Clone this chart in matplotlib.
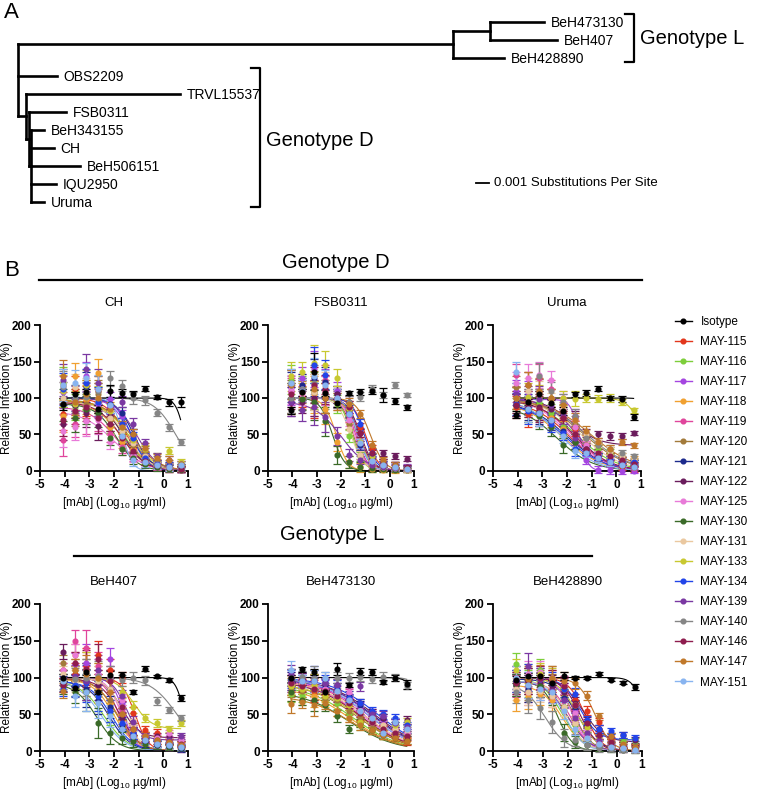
import numpy as np
import matplotlib
matplotlib.use('Agg')
import matplotlib.pyplot as plt
from matplotlib.lines import Line2D

plt.rcParams['font.family'] = ['Liberation Sans', 'DejaVu Sans']
plt.rcParams['mathtext.fontset'] = 'custom'
plt.rcParams['mathtext.rm'] = 'Liberation Sans'
plt.rcParams['mathtext.it'] = 'Liberation Sans:italic'
plt.rcParams['mathtext.bf'] = 'Liberation Sans:bold'
plt.rcParams['axes.unicode_minus'] = False

nan = np.nan

# ---------------- data ----------------
mabs = ['Isotype', 'MAY-115', 'MAY-116', 'MAY-117', 'MAY-118', 'MAY-119', 'MAY-120',
        'MAY-121', 'MAY-122', 'MAY-125', 'MAY-130', 'MAY-131', 'MAY-133', 'MAY-134',
        'MAY-139', 'MAY-140', 'MAY-146', 'MAY-147', 'MAY-151']
colors = ['#000000', '#e2361c', '#7dce3a', '#a445e0', '#f0a030', '#e0459c', '#a27a3a',
          '#1c2a8c', '#6a1c5c', '#e87ad8', '#3a6a28', '#eac8a0', '#c8c830', '#2244e8',
          '#7a38a2', '#858585', '#8e1c4e', '#c0782a', '#88b4f0']
conc = [-4.07, -3.59, -3.12, -2.64, -2.16, -1.69, -1.21, -0.73, -0.26, 0.22, 0.70]

# CH
ch_pts = [
    [92, 105, 108, 85, 110, 107, 105, 113, 101, 94, 94],
    [78, 112, 96, 110, 72, 58, 32, 16, 7, 4, 2],
    [120, 88, 104, 95, 62, 50, 28, 15, 9, 5, 4],
    [108, 95, 130, 92, 98, 75, 40, 22, 10, 6, 3],
    [75, 130, 98, 134, 60, 40, 30, 20, 12, 8, 5],
    [42, 65, 70, 75, 50, 33, 22, 12, 6, 3, 2],
    [118, 80, 92, 105, 70, 65, 35, 28, 15, 10, 6],
    [100, 90, 115, 100, 92, 80, 50, 20, 10, 5, 3],
    [65, 90, 80, 62, 75, 48, 25, 14, 8, 5, 3],
    [55, 60, 68, 70, 40, 30, 20, 12, 8, 4, 2],
    [90, 72, 85, 80, 45, 30, 18, 10, 5, 3, 2],
    [100, 115, 108, 100, 72, 55, 38, 20, 10, 6, 4],
    [110, 92, 118, 96, 82, 60, 42, 30, 20, 28, 12],
    [112, 100, 120, 95, 90, 65, 45, 18, 10, 8, 5],
    [125, 98, 140, 120, 88, 95, 65, 38, 20, 15, 10],
    [115, 100, 102, 110, 127, 117, 100, 97, 80, 60, 40],
    [70, 82, 88, 72, 65, 45, 28, 14, 8, 5, 3],
    [130, 95, 105, 100, 85, 60, 50, 32, 18, 15, 10],
    [118, 120, 128, 112, 90, 48, 15, 12, 8, 5, 8],
]
ch_err = [22, 18, 20, 20, 10, 8, 8, 6, 5, 5, 4]
ch_iso_err = [8, 3, 5, 5, 8, 5, 5, 4, 3, 5, 7]
ch_top = [100, 100, 98, 100, 95, 88, 96, 100, 95, 82, 92, 95, 97, 100, 100, 100, 94, 97, 100]
ch_bot = [0] * 19
ch_ic50 = [0.85, -1.5, -1.6, -1.3, -1.7, -1.9, -1.4, -1.2, -1.6, -2.0, -1.9, -1.5, -1.4, -1.3,
           -1.1, 0.5, -1.7, -1.3, -1.65]
ch_hill = [2.5, 1.0, 0.9, 1.1, 0.8, 0.8, 0.9, 1.2, 1.0, 0.7, 1.0, 0.9, 0.8, 1.3, 1.0, 1.0,
           0.9, 0.8, 2.2]

# FSB0311
fsb_pts = [
    [83, 108, 136, 107, 93, 107, 108, 110, 104, 96, 87],
    [100, 102, 98, 110, 100, 88, 60, 30, 12, 8, 4],
    [125, 115, 110, 100, 92, 48, 20, 12, 8, 5, 3],
    [110, 128, 140, 120, 110, 80, 35, 15, 10, 8, 6],
    [98, 112, 105, 85, 40, 12, 5, 3, 2, 1, 1],
    [108, 118, 100, 125, 100, 75, 38, 12, 8, 5, 3],
    [120, 100, 108, 100, 95, 65, 22, 10, 6, 4, 2],
    [115, 118, 128, 122, 105, 82, 35, 18, 10, 6, 4],
    [95, 95, 100, 100, 105, 95, 52, 20, 25, 20, 17],
    [112, 105, 118, 110, 98, 70, 40, 14, 8, 5, 3],
    [100, 98, 95, 68, 22, 12, 6, 4, 3, 2, 1],
    [118, 112, 108, 115, 100, 58, 22, 10, 6, 4, 2],
    [130, 135, 148, 145, 128, 85, 40, 20, 12, 8, 5],
    [118, 112, 145, 132, 100, 78, 65, 25, 12, 8, 5],
    [95, 84, 88, 74, 48, 22, 15, 8, 5, 4, 3],
    [100, 112, 120, 105, 98, 95, 102, 113, 104, 118, 104],
    [105, 110, 118, 112, 100, 88, 52, 24, 12, 8, 5],
    [118, 108, 112, 100, 95, 92, 78, 36, 15, 8, 3],
    [120, 110, 130, 118, 100, 78, 38, 14, 8, 5, 3],
]
fsb_err = [20, 15, 25, 20, 12, 8, 6, 5, 4, 4, 3]
fsb_iso_err = [5, 5, 25, 4, 5, 3, 4, 5, 10, 4, 3]
fsb_top = [nan, 100, 100, 100, 100, 100, 100, 100, 100, 100, 100, 100, 100, 100, 95, nan, 100, 100, 100]
fsb_bot = [0] * 19
fsb_ic50 = [nan, -1.0, -1.55, -1.35, -2.2, -1.4, -1.5, -1.3, -1.2, -1.45, -2.35, -1.6, -1.3,
            -1.05, -2.0, nan, -1.25, -0.8, -1.3]
fsb_hill = [nan, 1.6, 1.8, 2.0, 1.8, 1.8, 1.8, 1.8, 1.6, 1.8, 1.7, 1.6, 1.6, 1.7, 0.8, nan,
            1.6, 1.5, 1.8]

# Uruma
uru_pts = [
    [77, 94, 105, 93, 82, 105, 107, 113, 100, 99, 74],
    [88, 78, 80, 75, 72, 58, 35, 20, 12, 5, 2],
    [100, 92, 95, 80, 60, 40, 28, 30, 25, 15, 10],
    [110, 105, 108, 100, 95, 75, 15, 2, 1, 0, 0],
    [95, 85, 88, 72, 58, 40, 30, 22, 20, 15, 18],
    [132, 118, 128, 112, 85, 50, 32, 20, 12, 8, 4],
    [115, 118, 108, 100, 82, 65, 45, 35, 28, 20, 15],
    [90, 88, 82, 68, 55, 40, 30, 20, 15, 12, 12],
    [95, 98, 88, 85, 80, 72, 52, 50, 48, 48, 52],
    [120, 128, 132, 125, 100, 60, 35, 22, 15, 10, 8],
    [90, 85, 75, 60, 35, 40, 30, 18, 12, 8, 5],
    [100, 110, 105, 95, 85, 70, 50, 38, 28, 20, 15],
    [100, 102, 100, 100, 100, 99, 100, 99, 100, 95, 83],
    [92, 82, 80, 65, 52, 30, 28, 20, 15, 12, 12],
    [105, 95, 98, 90, 75, 45, 30, 18, 12, 10, 8],
    [100, 95, 130, 110, 95, 75, 45, 35, 30, 25, 20],
    [90, 92, 85, 70, 72, 50, 30, 25, 20, 15, 10],
    [100, 118, 110, 100, 90, 70, 55, 40, 30, 40, 35],
    [135, 85, 80, 70, 48, 28, 25, 18, 12, 8, 6],
]
uru_err = [15, 18, 18, 12, 10, 10, 6, 5, 5, 4, 3]
uru_iso_err = [5, 4, 5, 5, 5, 3, 4, 3, 3, 4, 4]
uru_top = [100, 95, 98, 98, 95, 100, 100, 95, 98, 100, 90, 98, 100, 95, 100, 100, 98, 98, 100]
uru_bot = [0, 0, 0, 0, 0, 0, 0, 0, 35, 0, 0, 0, 0, 0, 0, 0, 0, 0, 0]
uru_ic50 = [1.6, -1.9, -1.6, -1.5, -2.2, -1.8, -1.3, -2.0, -1.8, -1.9, -2.4, -1.4, 1.1, -2.1,
            -1.6, -1.2, -1.7, -1.0, -2.3]
uru_hill = [2.5, 0.6, 0.55, 2.5, 0.55, 0.6, 0.5, 0.55, 0.8, 0.6, 0.6, 0.55, 1.5, 0.55, 0.7,
            0.5, 0.6, 0.5, 0.6]

# BeH407
b407_pts = [
    [100, 86, 108, 80, 104, 104, 80, 112, 102, 97, 72],
    [110, 105, 115, 130, 110, 100, 52, 28, 25, 15, 10],
    [100, 90, 95, 75, 50, 35, 25, 15, 10, 8, 5],
    [100, 118, 120, 105, 125, 65, 25, 18, 15, 12, 10],
    [90, 130, 110, 85, 65, 42, 28, 15, 10, 8, 5],
    [95, 150, 140, 115, 95, 55, 22, 12, 8, 5, 3],
    [120, 110, 100, 95, 70, 50, 30, 15, 10, 6, 4],
    [92, 88, 85, 70, 60, 35, 20, 12, 8, 5, 3],
    [135, 100, 95, 90, 85, 45, 25, 15, 20, 20, 18],
    [110, 130, 110, 105, 100, 70, 28, 20, 18, 25, 15],
    [88, 80, 80, 38, 25, 18, 14, 10, 8, 5, 4],
    [105, 95, 100, 95, 85, 60, 35, 20, 15, 12, 10],
    [95, 100, 110, 100, 95, 80, 60, 45, 38, 30, 38],
    [85, 90, 92, 75, 55, 38, 25, 15, 10, 8, 5],
    [100, 102, 95, 110, 100, 75, 40, 18, 12, 15, 20],
    [100, 98, 100, 102, 100, 96, 100, 96, 68, 56, 45],
    [90, 120, 112, 125, 95, 60, 30, 20, 15, 12, 10],
    [82, 110, 105, 100, 80, 50, 30, 20, 15, 12, 8],
    [95, 75, 80, 65, 48, 30, 20, 15, 10, 8, 5],
]
b407_err = [10, 15, 25, 20, 15, 8, 8, 6, 5, 4, 4]
b407_iso_err = [5, 3, 4, 3, 5, 3, 3, 3, 2, 3, 4]
b407_top = [100, 100, 95, 100, 98, 100, 100, 95, 100, 100, 92, 100, 100, 95, 100, 100, 98, 98, 95]
b407_bot = [0, 0, 0, 0, 0, 0, 0, 0, 18, 0, 0, 0, 30, 0, 15, 0, 0, 0, 0]
b407_ic50 = [0.85, -1.15, -2.4, -1.6, -2.0, -1.8, -1.9, -2.2, -1.7, -1.7, -2.7, -1.6, -1.2, -2.1,
             -1.5, 0.55, -1.75, -1.85, -2.5]
b407_hill = [2.5, 1.6, 0.9, 1.8, 1.0, 1.4, 1.0, 1.0, 1.2, 1.5, 1.0, 1.2, 1.2, 1.0, 1.5, 0.8,
             1.1, 1.0, 0.9]

# BeH473130
b473_pts = [
    [99, 111, 107, 80, 112, 90, 108, 107, 94, 99, 91],
    [88, 90, 82, 78, 72, 62, 48, 40, 28, 20, 13],
    [78, 75, 85, 70, 65, 50, 35, 28, 22, 35, 30],
    [100, 98, 90, 88, 85, 72, 60, 52, 42, 38, 30],
    [80, 70, 75, 68, 55, 45, 38, 28, 22, 20, 18],
    [95, 92, 88, 85, 80, 78, 55, 48, 35, 30, 25],
    [85, 82, 85, 72, 70, 55, 45, 38, 30, 25, 22],
    [95, 98, 95, 90, 85, 75, 62, 50, 45, 40, 28],
    [100, 98, 90, 92, 90, 70, 65, 52, 45, 38, 42],
    [92, 95, 88, 85, 75, 80, 55, 40, 30, 28, 25],
    [80, 70, 70, 62, 48, 30, 38, 28, 22, 18, 15],
    [90, 92, 88, 80, 78, 70, 55, 45, 35, 30, 28],
    [88, 85, 90, 75, 72, 62, 40, 45, 30, 35, 40],
    [98, 95, 100, 95, 88, 72, 65, 55, 50, 45, 35],
    [105, 100, 95, 92, 90, 70, 88, 50, 48, 38, 32],
    [100, 101, 100, 100, 100, 100, 101, 98, 101, 100, 89],
    [92, 88, 85, 82, 75, 65, 52, 40, 30, 25, 20],
    [64, 66, 63, 65, 55, 45, 35, 28, 22, 18, 14],
    [110, 95, 95, 100, 82, 70, 55, 45, 25, 40, 30],
]
b473_err = [12, 8, 15, 8, 8, 6, 6, 5, 6, 5, 5]
b473_iso_err = [5, 3, 4, 3, 8, 3, 5, 4, 3, 4, 6]
b473_top = [100, 95, 90, 98, 88, 95, 92, 98, 98, 95, 82, 95, 92, 100, 100, 100, 95, 76, 100]
b473_bot = [0] * 19
b473_ic50 = [1.3, -1.2, -1.5, -0.9, -1.6, -1.0, -1.3, -0.7, -0.6, -1.1, -1.7, -1.0, -1.2, -0.5,
             -0.8, 1.5, -1.2, -1.5, -0.9]
b473_hill = [2.0, 0.5, 0.45, 0.45, 0.45, 0.5, 0.45, 0.45, 0.45, 0.45, 0.45, 0.45, 0.45, 0.45,
             0.45, 2.0, 0.45, 0.45, 0.45]

# BeH428890
b428_pts = [
    [97, 102, 102, 93, 102, 100, 100, 105, 97, 93, 87],
    [90, 85, 88, 95, 90, 70, 55, 40, 15, 8, 3],
    [118, 92, 110, 100, 60, 35, 18, 10, 8, 12, 14],
    [95, 90, 100, 85, 80, 55, 20, 10, 5, 3, 2],
    [70, 75, 78, 70, 55, 38, 20, 12, 8, 5, 3],
    [88, 80, 85, 75, 70, 48, 22, 12, 8, 5, 3],
    [92, 88, 95, 90, 75, 50, 25, 12, 8, 5, 3],
    [90, 85, 88, 80, 72, 60, 35, 20, 12, 8, 5],
    [95, 95, 92, 88, 80, 65, 40, 30, 20, 22, 15],
    [100, 105, 108, 100, 90, 52, 22, 12, 6, 3, 2],
    [90, 95, 88, 78, 25, 12, 8, 5, 3, 2, 1],
    [85, 80, 82, 75, 60, 38, 18, 10, 6, 4, 2],
    [110, 100, 105, 98, 85, 62, 32, 18, 12, 8, 5],
    [95, 100, 98, 92, 85, 78, 42, 30, 27, 22, 18],
    [100, 115, 98, 82, 70, 45, 25, 15, 10, 8, 5],
    [80, 70, 58, 40, 18, 15, 8, 4, 3, 2, 1],
    [92, 95, 100, 95, 88, 62, 38, 22, 12, 8, 4],
    [100, 98, 102, 100, 95, 92, 75, 47, 20, 10, 5],
    [100, 90, 85, 80, 55, 30, 18, 10, 6, 4, 2],
]
b428_err = [15, 18, 15, 15, 12, 8, 6, 5, 4, 4, 4]
b428_iso_err = [5, 4, 4, 3, 5, 2, 2, 2, 2, 2, 4]
b428_top = [100, 100, 100, 100, 90, 95, 100, 98, 100, 100, 95, 95, 100, 100, 95, 92, 100, 100, 95]
b428_bot = [0, 0, 0, 0, 0, 0, 0, 0, 12, 0, 0, 0, 0, 15, 0, 0, 0, 0, 0]
b428_ic50 = [1.1, -1.3, -2.2, -1.7, -2.2, -1.9, -1.75, -1.6, -1.4, -1.8, -2.4, -2.0, -1.6, -1.5,
             -2.0, -2.9, -1.5, -0.9, -2.1]
b428_hill = [2.0, 1.3, 1.0, 1.5, 1.0, 1.1, 1.2, 1.0, 1.0, 1.3, 1.4, 1.2, 1.1, 1.2, 1.0, 1.0,
             1.2, 1.3, 1.2]

# phylogenetic tree (branch lengths in units of 0.001 substitutions/site)
tree = [
    (33.5, [(2.77, [(4.23, 'BeH473130'), (5.23, 'BeH407')]), (3.92, 'BeH428890')]),
    (3.0, 'OBS2209'),
    (0.62, [(11.85, 'TRVL15537'),
            (0.23, [(2.85, 'FSB0311'),
                    (0.15, [(1.0, 'BeH343155'), (1.77, 'CH'), (3.77, 'BeH506151'),
                            (1.92, 'IQU2950'), (1.0, 'Uruma')])])]),
]
scale_bar = 1.0  # 0.001 substitutions per site

# ---------------- figure ----------------
W, H = 763, 790
fig = plt.figure(figsize=(W / 100, H / 100), dpi=100)


def fx(px):
    return px / W


def fy(py):
    return 1 - py / H


# ---- Panel A: tree ----
PX_PER_UNIT = 13.0
X0_PX = 18.0
ROW0_PX, ROW_PX = 21.7, 18.0
TREE_H = 222
axt = fig.add_axes([0, fy(TREE_H), 1, TREE_H / H])
axt.set_xlim(-X0_PX / PX_PER_UNIT, (W - X0_PX) / PX_PER_UNIT)
axt.set_ylim((TREE_H - ROW0_PX) / ROW_PX, -ROW0_PX / ROW_PX)
axt.axis('off')
TLW = 1.9
row_counter = [0]


def draw_node(children, x0):
    ys = []
    for bl, sub in children:
        x1 = x0 + bl
        if isinstance(sub, str):
            y = row_counter[0]
            row_counter[0] += 1
            axt.text(x1 + 0.5, y + 0.05, sub, fontsize=10, va='center', ha='left')
        else:
            y = draw_node(sub, x1)
        axt.plot([x0, x1], [y, y], color='k', lw=TLW, solid_capstyle='projecting')
        ys.append(y)
    axt.plot([x0, x0], [ys[0], ys[-1]], color='k', lw=TLW, solid_capstyle='projecting')
    return (ys[0] + ys[-1]) / 2


draw_node(tree, 0.0)


def px2x(px):
    return (px - X0_PX) / PX_PER_UNIT


def py2r(py):
    return (py - ROW0_PX) / ROW_PX


# brackets
for (bx, y0, y1, lab, ty) in [(634, 14, 62, 'Genotype L', 39), (260, 68, 207, 'Genotype D', 141)]:
    axt.plot([px2x(bx - 9), px2x(bx), px2x(bx), px2x(bx - 9)],
             [py2r(y0), py2r(y0), py2r(y1), py2r(y1)], color='k', lw=1.6)
    axt.text(px2x(bx + 6), py2r(ty), lab, fontsize=14.5, va='center', ha='left')

# scale bar
sb_x = px2x(476)
axt.plot([sb_x, sb_x + scale_bar], [py2r(183)] * 2, color='k', lw=1.3)
axt.text(sb_x + scale_bar + 0.4, py2r(183), '0.001 Substitutions Per Site', fontsize=9.5,
         va='center', ha='left')

fig.text(fx(4), fy(12), 'A', fontsize=16, va='center', ha='left')
fig.text(fx(4), fy(270), 'B', fontsize=16, va='center', ha='left')

# headers
fig.text(fx(336), fy(262), 'Genotype D', fontsize=14.5, ha='center', va='center')
fig.add_artist(Line2D([fx(39), fx(642)], [fy(280), fy(280)], color='k', lw=1.6))
fig.text(fx(332), fy(535), 'Genotype L', fontsize=14.5, ha='center', va='center')
fig.add_artist(Line2D([fx(74), fx(592)], [fy(556), fy(556)], color='k', lw=1.6))

# ---- Panel B: dose-response ----
panels = [
    ('CH', (40, 325, 188, 471), ch_pts, ch_err, ch_iso_err, ch_top, ch_bot, ch_ic50, ch_hill),
    ('FSB0311', (268, 325, 414, 471), fsb_pts, fsb_err, fsb_iso_err, fsb_top, fsb_bot, fsb_ic50, fsb_hill),
    ('Uruma', (493, 325, 641, 471), uru_pts, uru_err, uru_iso_err, uru_top, uru_bot, uru_ic50, uru_hill),
    ('BeH407', (40, 604, 188, 751), b407_pts, b407_err, b407_iso_err, b407_top, b407_bot, b407_ic50, b407_hill),
    ('BeH473130', (268, 604, 414, 751), b473_pts, b473_err, b473_iso_err, b473_top, b473_bot, b473_ic50, b473_hill),
    ('BeH428890', (493, 604, 642, 751), b428_pts, b428_err, b428_iso_err, b428_top, b428_bot, b428_ic50, b428_hill),
]

xs = np.linspace(conc[0], conc[-1], 200)
order = list(range(1, len(mabs))) + [0]

for title, (l, t, r, b), pts, err, iso_err, top, bot, ic50, hill in panels:
    ax = fig.add_axes([fx(l), fy(b), (r - l) / W, (b - t) / H])
    for i in order:
        c = colors[i]
        e = iso_err if i == 0 else err
        ax.errorbar(conc, pts[i], yerr=e, fmt='o', ms=3.4, color=c, ecolor=c,
                    elinewidth=0.9, capsize=2.6, capthick=0.9, clip_on=False, zorder=3)
        if not np.isnan(ic50[i]):
            ys = bot[i] + (top[i] - bot[i]) / (1 + 10 ** (hill[i] * (xs - ic50[i])))
            ax.plot(xs, ys, color=c, lw=0.8, zorder=2)
    ax.set_xlim(-5, 1)
    ax.set_ylim(0, 200)
    ax.set_xticks(range(-5, 2))
    ax.set_yticks([0, 50, 100, 150, 200])
    for s in ('top', 'right'):
        ax.spines[s].set_visible(False)
    for s in ('left', 'bottom'):
        ax.spines[s].set_linewidth(1.3)
    ax.tick_params(direction='out', length=4, width=1.3, labelsize=8.5, pad=2)
    for lab in ax.get_xticklabels() + ax.get_yticklabels():
        lab.set_fontweight('bold')
    ax.set_xlabel(r'[mAb] (Log$_{10}$ µg/ml)', fontsize=8.5)
    ax.xaxis.set_label_coords(0.5, -24 / (b - t))
    ax.set_ylabel('Relative Infection (%)', fontsize=8.5)
    ax.yaxis.set_label_coords(-27 / (r - l), 0.5)
    ax.text(0.5, 1 + 22 / (b - t), title, transform=ax.transAxes, fontsize=9.5,
            ha='center', va='center')

# legend
handles = [Line2D([0], [0], color=colors[i], marker='o', ms=3.4, lw=1.0) for i in range(len(mabs))]
fig.legend(handles, mabs, loc='upper left', bbox_to_anchor=(fx(675), fy(316)),
           frameon=False, fontsize=8.5, handlelength=1.4, handletextpad=0.75,
           labelspacing=0.68, borderaxespad=0, borderpad=0)

fig.savefig('out.png', dpi=100)
